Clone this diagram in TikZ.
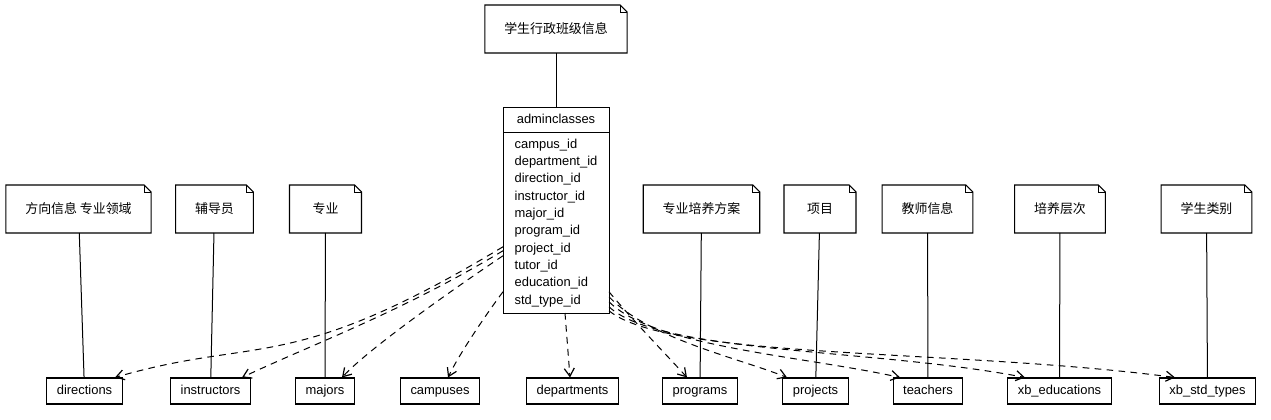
\documentclass[tikz,border=0pt]{standalone}
\usepackage{fontspec}
\setmainfont{Liberation Sans}
\newfontfamily\cjkfont{Noto Sans CJK SC}
\usetikzlibrary{positioning,calc,arrows.meta}

\tikzset{
  txt/.style={font=\fontsize{9.7}{13}\selectfont},
  note/.style={txt, font=\cjkfont\fontsize{9.7}{13}\selectfont, minimum width=54pt, minimum height=36pt,
    inner xsep=14.6pt, outer sep=0pt,
    append after command={\pgfextra{\let\notenode=\tikzlastnode
      \draw[line width=0.8pt] (\notenode.south west) -- (\notenode.north west)
        -- ([xshift=-5.25pt]\notenode.north east) -- ([yshift=-5.25pt]\notenode.north east)
        -- (\notenode.south east) -- cycle;
      \draw[line width=0.6pt] ([xshift=-5.25pt]\notenode.north east) |- ([yshift=-5.25pt]\notenode.north east);}}},
  cls/.style={txt, draw, line width=0.75pt, minimum width=79.5pt, outer sep=0pt, inner sep=0pt},
  tbl/.style={txt, draw, line width=0.8pt, minimum height=19.5pt, inner xsep=7.5pt, inner ysep=0pt,
    text height=7pt, text depth=2pt},
  link/.style={line width=0.75pt},
  dep/.style={line width=0.75pt, dash pattern=on 5pt off 4pt,
    -{Straight Barb[length=6pt, width=7.5pt, line width=0.9pt]}}
}

\begin{document}
\begin{tikzpicture}[x=0.75pt, y=-0.75pt]
\useasboundingbox (0,0) rectangle (1271,420);

% class and its note
\node[note] (topNote) at (556,29) {学生行政班级信息};
\node[cls, minimum height=18.75pt, text height=7pt, text depth=2pt] (head) at (556,120) {adminclasses};
\node[cls, below=0pt of head, align=left, minimum height=135.4pt] (body)
  {campus\_id\\department\_id\\direction\_id\\instructor\_id\\major\_id\\program\_id\\project\_id\\tutor\_id\\education\_id\\std\_type\_id};
\draw[link] (topNote) -- (head);

% notes
\node[note] (dirNote) at (78.5,209) {方向信息 专业领域};
\node[note] (insNote) at (214.5,209) {辅导员};
\node[note] (majNote) at (325.5,209) {专业};
\node[note] (prgNote) at (701.5,209) {专业培养方案};
\node[note] (prjNote) at (820,209) {项目};
\node[note] (tchNote) at (927.5,209) {教师信息};
\node[note] (eduNote) at (1060,209) {培养层次};
\node[note] (stdNote) at (1206.5,209) {学生类别};

% tables
\node[tbl] (directions) at (84.5,391) {directions};
\node[tbl] (instructors) at (210.5,391) {instructors};
\node[tbl] (majors) at (325,391) {majors};
\node[tbl] (campuses) at (440,391) {campuses};
\node[tbl] (departments) at (572.5,391) {departments};
\node[tbl] (programs) at (700,391) {programs};
\node[tbl] (projects) at (815.5,391) {projects};
\node[tbl] (teachers) at (928,391) {teachers};
\node[tbl] (xbEducations) at (1059.5,391) {xb\_educations};
\node[tbl] (xbStdTypes) at (1207.5,391) {xb\_std\_types};

\draw[link] (dirNote) -- (directions);
\draw[link] (insNote) -- (instructors);
\draw[link] (majNote) -- (majors);
\draw[link] (prgNote) -- (programs);
\draw[link] (prjNote) -- (projects);
\draw[link] (tchNote) -- (teachers);
\draw[link] (eduNote) -- (xbEducations);
\draw[link] (stdNote) -- (xbStdTypes);

% references
\draw[dep] ($(body.west)+(0,24)$) .. controls +(-214,129) and +(144,-42) .. ($(directions.north)+(30.5,0)$);
\draw[dep] ($(body.west)+(0,28)$) .. controls +(-103,62) and +(72,-34) .. ($(instructors.north)+(31.5,0)$);
\draw[dep] ($(body.west)+(0,33)$) .. controls +(-50,33.5) and +(27,-29) .. ($(majors.north)+(17,0)$);
\draw[dep] ($(body.west)+(0,69)$) .. controls +(-15,20) and +(12,-25) .. ($(campuses.north)+(8,0)$);
\draw[dep] ($(body.south)+(9,0)$) -- ($(departments.north)+(-2.5,0)$);
\draw[dep] ($(body.east)+(0,69)$) .. controls +(25,30) and +(-18,-20) .. ($(programs.north)+(-13,0)$);
\draw[dep] ($(body.east)+(0,74)$) .. controls +(40,42) and +(-50,-20) .. ($(projects.north)+(-28.5,0)$);
\draw[dep] ($(body.east)+(0,79)$) .. controls +(45,45) and +(-100,-22) .. ($(teachers.north)+(-28,0)$);
\draw[dep] ($(body.east)+(0,84)$) .. controls +(50,47) and +(-150,-29) .. ($(xbEducations.north)+(-34.5,0)$);
\draw[dep] ($(body.east)+(0,88)$) .. controls +(60,49) and +(-220,-29) .. ($(xbStdTypes.north)+(-32.5,0)$);
\end{tikzpicture}
\end{document}
